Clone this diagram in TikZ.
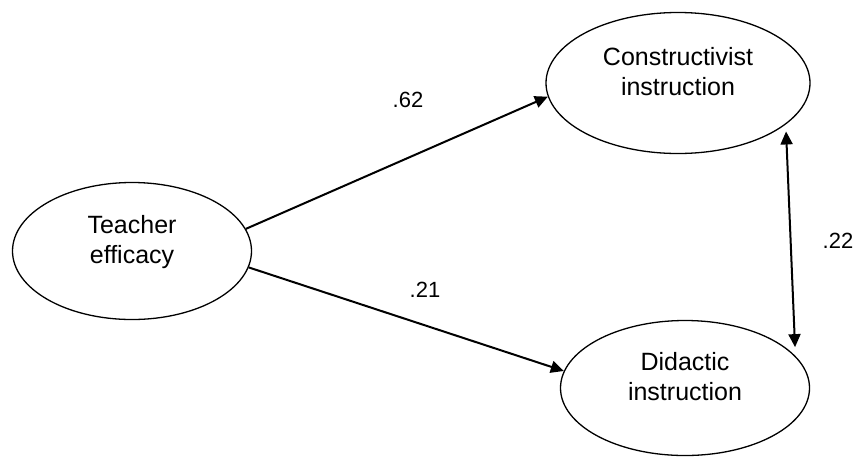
\documentclass[tikz,border=0pt]{standalone}
\usepackage{fontspec}
\setmainfont{Liberation Sans}
\usepackage{tikz}
\usetikzlibrary{arrows.meta,shapes.geometric,positioning}

\begin{document}
\begin{tikzpicture}[
    x=1pt, y=-1pt,
    construct/.style={ellipse, draw, line width=1.3pt, inner sep=0pt, align=center, text depth=24pt, font=\fontsize{25}{30}\selectfont},
    path/.style={-{Triangle[length=13pt,width=12pt]}, line width=2pt},
    coeff/.style={font=\fontsize{22}{26}\selectfont}
]
    \useasboundingbox (0,0) rectangle (856,456);

    \node[construct, minimum width=239pt, minimum height=137pt] (teacher) at (132,251) {Teacher\\efficacy};
    \node[construct, minimum width=264pt, minimum height=141pt] (constr) at (678,83) {Constructivist\\instruction};
    \node[construct, minimum width=249pt, minimum height=135pt] (didactic) at (685,388) {Didactic\\instruction};

    \draw[path] (teacher.11) -- (constr.186);
    \draw[path] (teacher.-8) -- (didactic.172);
    \draw[path, {Triangle[length=13pt,width=12pt]}-{Triangle[length=13pt,width=12pt]}] ([xshift=6pt,yshift=-3pt]constr.-24) -- ([xshift=6pt,yshift=3pt]didactic.20);

    \node[coeff] (b62) at (408,100) {.62};
    \node[coeff] (b21) at (425,290) {.21};
    \node[coeff] (r22) at (838,241) {.22};
\end{tikzpicture}
\end{document}
